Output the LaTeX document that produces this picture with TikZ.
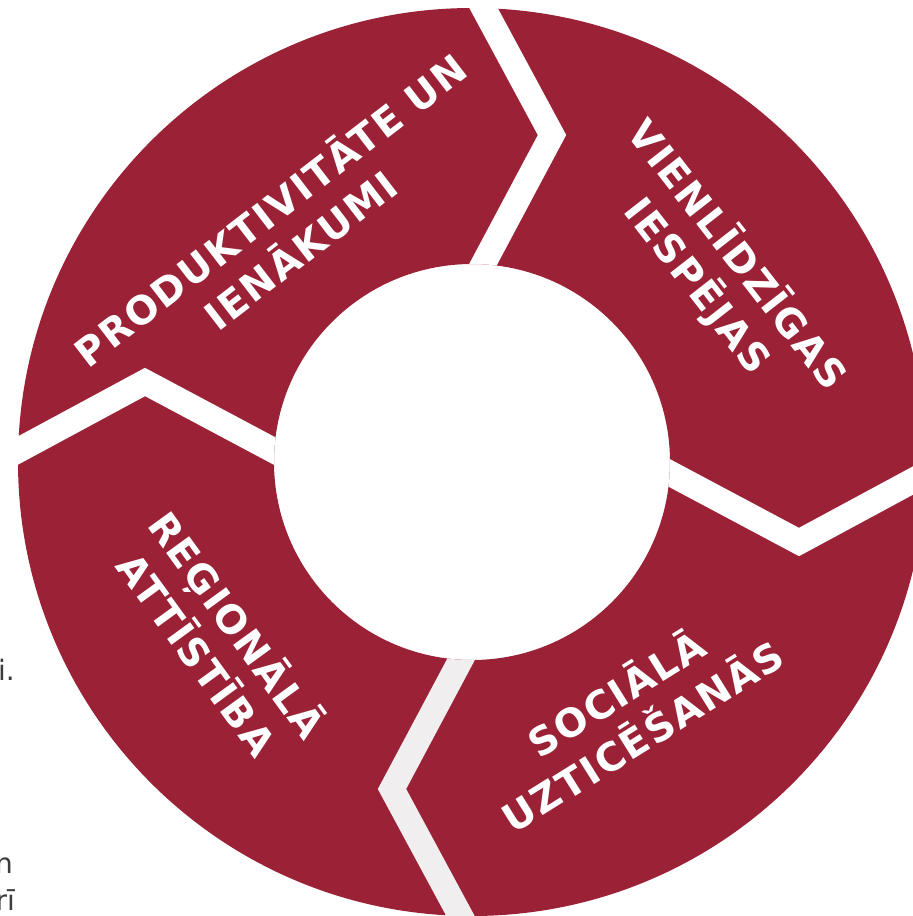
\documentclass[tikz,border=0pt]{standalone}
\usepackage{fontspec}
\newfontfamily\segfont[LetterSpace=4.5]{DejaVuSans-Bold.ttf}
\newfontfamily\pagefont{DejaVuSans.ttf}
\definecolor{ringred}{RGB}{155,34,54}
\definecolor{gapgray}{RGB}{240,238,239}
\definecolor{pagetext}{RGB}{60,60,60}
\tikzset{
  seglabel/.style={text=white, font=\segfont\fontsize{39}{50}\selectfont, align=center, inner sep=0pt},
  pagetxt/.style={text=pagetext, font=\pagefont\fontsize{28}{37}\selectfont, inner sep=0pt, anchor=base east},
  gapline/.style={line width=25pt, line join=miter, miter limit=10, line cap=butt},
}
\begin{document}
\begin{tikzpicture}[x=1pt,y=-1pt]
\path[use as bounding box] (0,0) rectangle (913,916);
\fill[white] (0,0) rectangle (913,916);
\clip (0,0) rectangle (913,916);
\coordinate (C) at (472,462);
\fill[ringred, even odd rule] (C) circle[radius=454pt] (C) circle[radius=198pt];
\begin{scope}[even odd rule]
  \clip (C) circle[radius=456pt] (C) circle[radius=198pt];
  \draw[gapline, white] (463,-30) -- (552,135) -- (462,304);
  \draw[gapline, white] (-20,471) -- (145,382) -- (314,472);
  \draw[gapline, white] (964,453) -- (799,542) -- (630,452);
  \draw[gapline, gapgray] (481,954) -- (392,789) -- (482,620);
\end{scope}
\node[seglabel, rotate=37.6] (prod) at (284,228) {PRODUKTIVITĀTE UN\\IENĀKUMI};
\node[seglabel, rotate=-52] (vien) at (718,270) {VIENLĪDZĪGAS\\IESPĒJAS};
\node[seglabel, rotate=32] (soc) at (628,713) {SOCIĀLĀ\\UZTICĒŠANĀS};
\node[seglabel, rotate=-54] (reg) at (219,638) {REĢIONĀLĀ\\ATTĪSTĪBA};
\node[pagetxt] (t1) at (15,680) {i.};
\node[pagetxt] (t2) at (13,873) {n};
\node[pagetxt] (t3) at (15,910) {rī};
\end{tikzpicture}
\end{document}
